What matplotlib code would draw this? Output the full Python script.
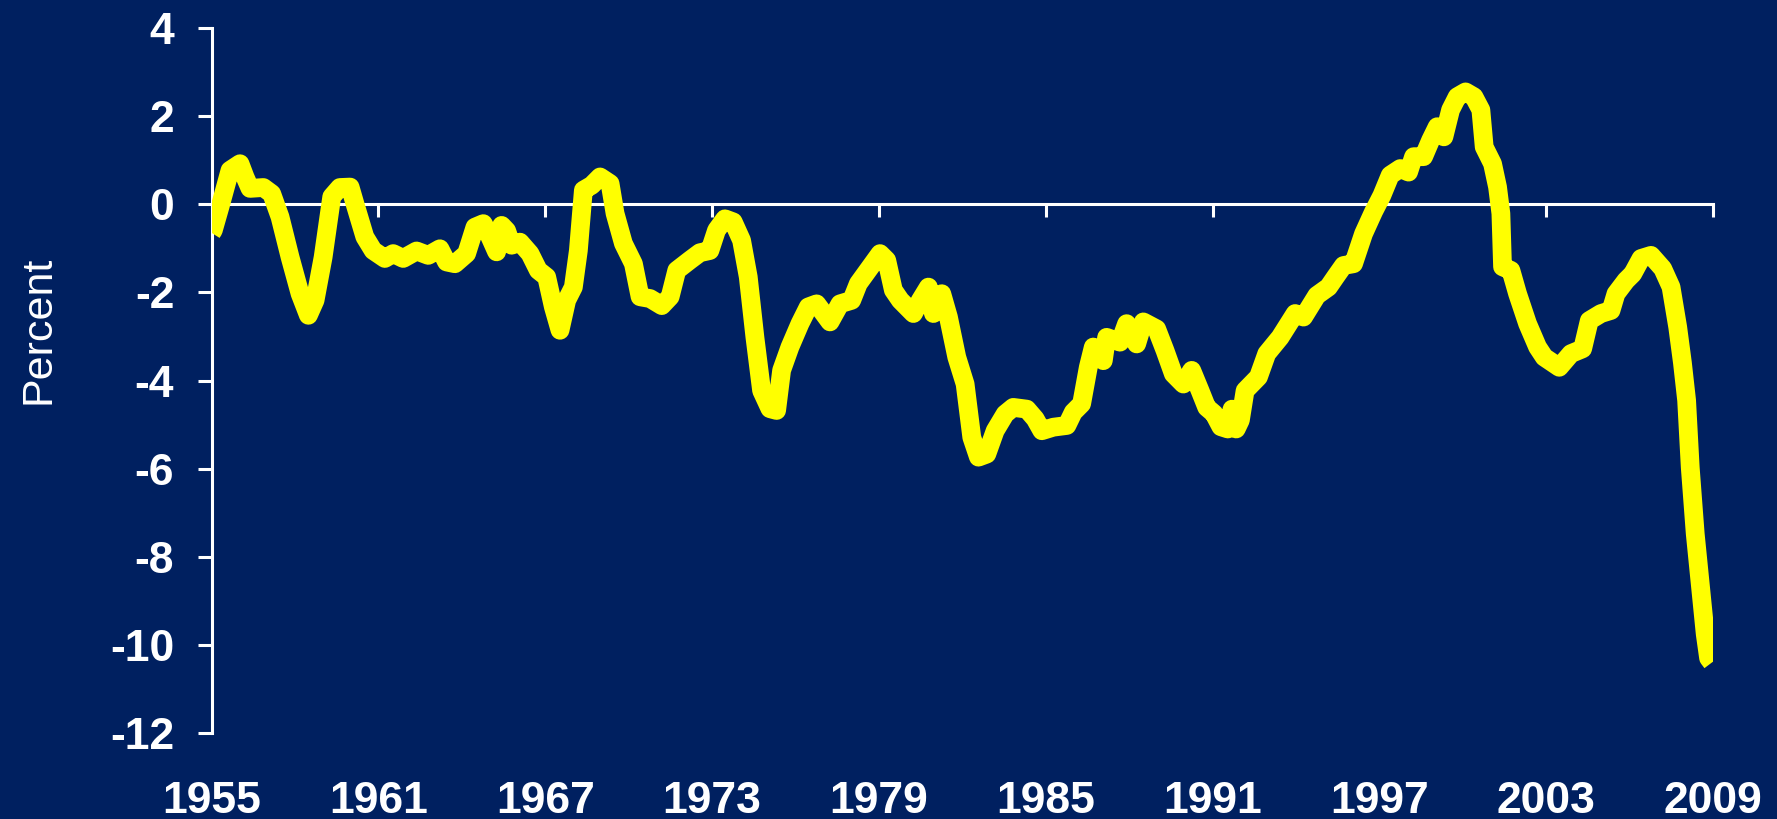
import matplotlib
matplotlib.use("Agg")
import matplotlib.pyplot as plt

# values (year, percent)
years = [1955.0, 1955.06, 1955.3, 1955.66, 1956.02, 1956.2, 1956.38, 1956.86, 1957.16,
         1957.46, 1957.82, 1958.18, 1958.48, 1958.72, 1959.01, 1959.32, 1959.61, 1959.98,
         1960.15, 1960.51, 1960.81, 1961.23, 1961.53, 1961.89, 1962.37, 1962.79, 1963.21,
         1963.45, 1963.75, 1964.17, 1964.47, 1964.77, 1965.01, 1965.25, 1965.43, 1965.61,
         1965.79, 1966.09, 1966.45, 1966.75, 1967.05, 1967.29, 1967.53, 1967.77, 1968.01,
         1968.19, 1968.37, 1968.67, 1968.97, 1969.33, 1969.51, 1969.81, 1970.17, 1970.41,
         1970.77, 1971.19, 1971.49, 1971.73, 1972.2, 1972.56, 1972.92, 1973.16, 1973.46,
         1973.76, 1974.06, 1974.3, 1974.54, 1974.78, 1975.08, 1975.32, 1975.5, 1975.8,
         1976.16, 1976.46, 1976.76, 1977.24, 1977.6, 1978.02, 1978.26, 1978.56, 1979.04,
         1979.28, 1979.52, 1979.77, 1980.24, 1980.49, 1980.78, 1980.96, 1981.26, 1981.5,
         1981.8, 1982.1, 1982.34, 1982.58, 1982.88, 1983.18, 1983.54, 1983.83, 1984.32,
         1984.62, 1984.86, 1985.27, 1985.76, 1985.99, 1986.29, 1986.53, 1986.71, 1987.07,
         1987.19, 1987.67, 1987.91, 1988.27, 1988.51, 1988.99, 1989.29, 1989.59, 1989.95,
         1990.25, 1990.55, 1990.79, 1991.05, 1991.3, 1991.55, 1991.7, 1991.85, 1992.0,
         1992.17, 1992.65, 1992.95, 1993.43, 1993.97, 1994.27, 1994.75, 1995.17, 1995.42,
         1995.71, 1996.07, 1996.43, 1996.79, 1997.09, 1997.39, 1997.75, 1998.05, 1998.23,
         1998.59, 1998.84, 1999.08, 1999.32, 1999.56, 1999.8, 2000.1, 2000.4, 2000.65,
         2000.77, 2001.07, 2001.25, 2001.37, 2001.43, 2001.73, 2001.97, 2002.33, 2002.69,
         2002.93, 2003.47, 2003.89, 2004.31, 2004.55, 2004.97, 2005.33, 2005.51, 2005.87,
         2006.11, 2006.41, 2006.77, 2007.19, 2007.49, 2007.73, 2007.9, 2008.05, 2008.18,
         2008.36, 2008.54, 2008.72, 2008.84, 2008.96]
pct = [-0.65, -0.59, -0.06, 0.77, 0.92, 0.62, 0.36, 0.38, 0.24,
       -0.29, -1.2, -2.03, -2.52, -2.18, -1.2, 0.17, 0.38, 0.39,
       0.02, -0.74, -1.05, -1.23, -1.12, -1.23, -1.06, -1.16, -1.01,
       -1.31, -1.35, -1.12, -0.52, -0.44, -0.74, -1.08, -0.48, -0.6,
       -0.93, -0.86, -1.12, -1.5, -1.65, -2.33, -2.86, -2.18, -1.88,
       -1.05, 0.32, 0.43, 0.62, 0.47, -0.21, -0.89, -1.35, -2.1,
       -2.14, -2.3, -2.1, -1.5, -1.27, -1.1, -1.05, -0.59, -0.33,
       -0.4, -0.82, -1.65, -3.02, -4.23, -4.64, -4.68, -3.77, -3.24,
       -2.71, -2.33, -2.26, -2.67, -2.26, -2.18, -1.8, -1.54, -1.12,
       -1.27, -1.95, -2.18, -2.48, -2.18, -1.88, -2.48, -2.03, -2.56,
       -3.47, -4.08, -5.29, -5.74, -5.67, -5.14, -4.76, -4.61, -4.65,
       -4.87, -5.14, -5.06, -5.02, -4.72, -4.53, -3.7, -3.24, -3.55,
       -3.02, -3.13, -2.71, -3.17, -2.67, -2.83, -3.32, -3.85, -4.08,
       -3.77, -4.23, -4.61, -4.75, -5.05, -5.1, -4.65, -5.1, -4.9,
       -4.23, -3.92, -3.39, -3.02, -2.48, -2.56, -2.07, -1.88, -1.65,
       -1.39, -1.35, -0.67, -0.17, 0.2, 0.66, 0.81, 0.73, 1.08,
       1.08, 1.45, 1.76, 1.53, 2.14, 2.44, 2.55, 2.44, 2.14,
       1.3, 0.92, 0.39, -0.21, -1.42, -1.5, -2.03, -2.71, -3.24,
       -3.47, -3.7, -3.39, -3.28, -2.64, -2.48, -2.41, -2.03, -1.73,
       -1.58, -1.23, -1.16, -1.46, -1.88, -2.79, -3.6, -4.45, -5.97,
       -7.48, -8.62, -9.76, -10.3, -10.4]

xticks = [1955, 1961, 1967, 1973, 1979, 1985, 1991, 1997, 2003, 2009]
yticks = [4, 2, 0, -2, -4, -6, -8, -10, -12]

bg = '#002060'
plt.rcParams['font.family'] = ['Liberation Sans', 'DejaVu Sans']

fig = plt.figure(figsize=(17.77, 8.19), dpi=100, facecolor=bg)
ax = fig.add_axes([0.1191, 0.105, 0.8449, 0.8608])
ax.set_facecolor(bg)

ax.plot(years, pct, color='#FFFF00', lw=13.5, solid_joinstyle='round',
        solid_capstyle='butt', zorder=3)

ax.set_xlim(1955, 2009)
ax.set_ylim(-12, 4)

for s in ['top', 'right']:
    ax.spines[s].set_visible(False)
ax.spines['bottom'].set_position(('data', 0))
for s in ['left', 'bottom']:
    ax.spines[s].set_color('white')
    ax.spines[s].set_linewidth(2.2)

ax.set_yticks(yticks)
ax.set_yticklabels([str(v) for v in yticks])
ax.tick_params(axis='y', colors='white', length=10, width=2.2, pad=17,
               labelsize=32)
for lab in ax.get_yticklabels():
    lab.set_fontweight('bold')

ax.set_xticks(xticks)
ax.tick_params(axis='x', colors='white', length=9, width=2.2, labelbottom=False)

# year labels sit below the plot, not on the zero line
sec = ax.secondary_xaxis(-0.068)
sec.set_xticks(xticks)
sec.set_xticklabels([str(v) for v in xticks])
sec.spines['bottom'].set_visible(False)
sec.tick_params(axis='x', length=0, pad=0, colors='white', labelsize=32)
for lab in sec.get_xticklabels():
    lab.set_fontweight('bold')

fig.text(0.0214, 0.597, 'Percent', rotation=90, ha='center', va='center',
         color='white', fontsize=31)

fig.savefig('out.png', dpi=100, facecolor=bg)
